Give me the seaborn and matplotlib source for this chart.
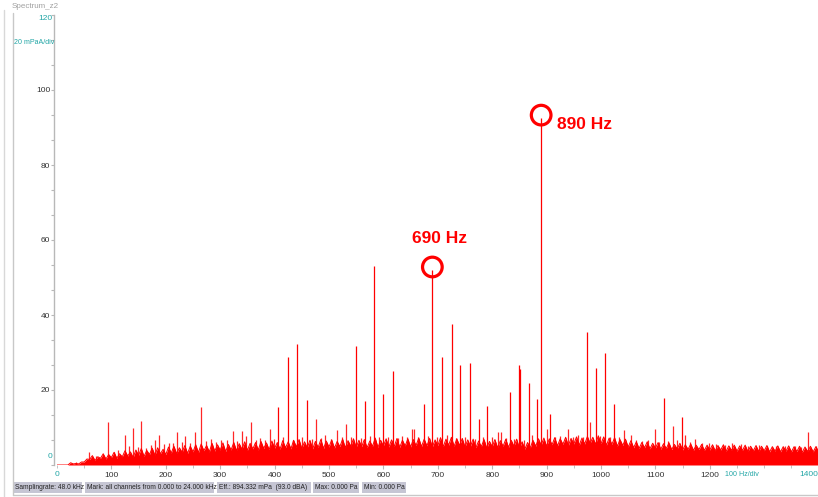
import matplotlib
matplotlib.use("Agg")
import matplotlib.pyplot as plt
from matplotlib import font_manager
from matplotlib.lines import Line2D
from matplotlib.patches import Rectangle
from matplotlib.ticker import MultipleLocator
import pandas as pd
import seaborn as sns

# ---- spectrum data (frequency in Hz, level in mPa(A)) ----
# noise floor: troughs on the 10 Hz grid, crests in between
floor_hz = list(range(0, 1410, 10))
floor_level = [
    0.0, 0.0, 0.0, 0.3, 0.3, 0.8, 1.5, 1.2, 1.8, 1.6,
    2.0, 1.8, 2.2, 2.4, 2.0, 2.6, 2.3, 2.8, 2.6, 3.0,
    2.8, 3.2, 3.0, 3.4, 3.1, 3.5, 3.3, 3.8, 3.5, 3.7,
    4.0, 3.6, 4.0, 3.8, 4.2, 3.9, 4.3, 4.0, 4.4, 4.1,
    4.5, 4.2, 4.6, 4.3, 4.8, 4.4, 4.6, 4.3, 4.7, 4.4,
    4.8, 4.5, 4.9, 4.6, 5.0, 4.7, 4.9, 4.6, 5.0, 4.7,
    5.1, 4.8, 5.0, 4.7, 5.1, 4.8, 5.2, 4.9, 5.1, 4.8,
    5.2, 4.9, 5.3, 5.0, 5.2, 4.8, 5.0, 4.6, 4.9, 4.5,
    4.9, 4.6, 5.0, 4.7, 5.0, 4.5, 4.2, 4.6, 5.0, 5.3,
    5.0, 5.4, 5.1, 5.5, 5.2, 5.6, 5.3, 5.6, 5.8, 5.5,
    5.7, 5.3, 5.5, 5.0, 5.2, 4.8, 4.6, 4.4, 4.6, 4.3,
    4.5, 4.2, 4.4, 4.1, 4.3, 4.0, 4.2, 3.9, 4.1, 3.9,
    4.0, 3.8, 4.0, 3.7, 3.9, 3.7, 3.9, 3.6, 3.8, 3.6,
    3.8, 3.5, 3.7, 3.5, 3.7, 3.5, 3.6, 3.4, 3.6, 3.5,
    3.6,
]
crest_hz = list(range(5, 1400, 10))
crest_level = [
    0.0, 0.0, 0.6, 0.4, 0.8,
    1.6, 2.5, 2.2, 3.0, 2.8, 3.4, 3.0, 3.8, 3.5, 4.0, 4.4, 3.9, 4.5, 4.6, 4.2,
    4.8, 5.0, 4.6, 5.2, 5.0, 5.4, 5.6, 5.2, 5.8, 5.4,
    5.9, 5.5, 6.0, 5.7, 6.2, 5.8, 6.0, 6.3, 5.9, 6.4,
    6.0, 6.5, 6.2, 6.6, 6.8, 6.2, 6.6, 6.3, 6.8, 6.4,
    6.7, 6.3, 6.9, 6.5, 7.0, 6.6, 6.8, 6.4, 7.2, 6.6,
    7.0, 6.7, 7.1, 6.6, 7.0, 6.8, 7.2, 6.9, 7.1, 6.7,
    7.3, 6.9, 7.4, 7.0, 7.1, 6.7, 6.9, 6.4, 6.8, 6.3,
    6.8, 6.5, 6.9, 6.6, 6.9, 6.2, 6.0, 6.6, 7.0, 7.2,
    7.0, 7.3, 7.0, 7.4, 7.1, 7.5, 7.2, 7.6, 7.4, 7.8,
    7.5, 7.2, 7.3, 6.8, 6.9, 6.5, 6.2, 6.0, 6.2, 5.8,
    6.0, 5.7, 5.9, 5.5, 5.8, 5.4, 5.6, 5.3, 5.5, 5.3,
    5.4, 5.2, 5.4, 5.1, 5.3, 5.1, 5.3, 5.0, 5.2, 5.0,
    5.2, 4.9, 5.1, 4.9, 5.1, 4.9, 5.0, 4.8, 5.0, 4.9,
]

# small peaks riding on the noise floor
ripple_hz = [
    35, 58, 72, 85, 93, 104, 112, 125, 133, 140, 148, 155, 163, 172, 180, 187,
    196, 205, 213, 221, 229, 236, 245, 254, 265, 274, 283, 292, 301, 312, 323,
    331, 340, 348, 357, 366, 374, 383, 391, 398, 416, 433, 450, 468, 476, 485,
    492, 503, 515, 523, 531, 540, 558, 575, 592, 608, 626, 634, 643, 652, 657,
    664, 682, 698, 716, 733, 750, 768, 784, 800, 810, 817, 825, 840, 858, 873,
    900, 915, 924, 939, 948, 958, 966, 979, 998, 1016, 1033, 1042, 1055, 1064,
    1075, 1087, 1099, 1106, 1124, 1133, 1140, 1155, 1163, 1172, 1185, 1198,
    1212, 1228, 1241, 1257, 1270, 1290, 1305, 1322, 1338, 1356, 1367, 1381, 1395,
]
ripple_level = [
    0.8, 3.6, 2.4, 2.8, 11.4, 3.4, 4.0, 8.1, 5.0, 10.0, 4.8, 11.7, 4.6, 5.4, 6.6, 8.1,
    5.6, 6.0, 5.8, 8.9, 6.2, 7.7, 6.0, 8.9, 15.6, 6.4, 7.0, 6.2, 6.8, 6.6, 9.2,
    6.4, 9.2, 7.7, 11.4, 6.6, 7.2, 6.8, 9.6, 7.0, 7.4, 6.8, 7.6, 7.0, 12.3, 7.2,
    8.0, 7.0, 9.3, 7.4, 11.0, 7.6, 7.2, 7.8, 7.4, 7.6, 7.2, 7.8, 7.4, 9.6, 9.6,
    7.6, 7.8, 7.4, 8.0, 7.2, 7.6, 7.0, 7.4, 7.6, 8.9, 8.8, 7.2, 7.0, 6.6, 8.0,
    9.6, 7.6, 7.8, 9.6, 7.4, 8.0, 7.6, 11.4, 7.8, 7.4, 7.6, 9.3, 8.0, 6.8,
    6.4, 6.6, 9.6, 6.2, 6.4, 10.3, 6.6, 8.0, 6.2, 7.0, 5.8, 6.0,
    5.6, 5.4, 5.8, 5.6, 5.2, 5.4, 5.0, 5.2, 5.0, 5.2, 4.9, 8.8, 5.0,
]

# tonal components
tone_hz = [
    407, 425, 441, 459, 550, 566, 583, 600, 617, 674, 690, 707, 726, 741,
    759, 776, 790, 832, 849, 851, 867, 883, 890, 907, 974, 991, 1008, 1024,
    1115, 1149,
]
tone_level = [
    15.5, 28.7, 32.4, 17.3, 31.8, 17.0, 53.0, 18.9, 25.2, 16.4, 52.0, 28.9,
    37.6, 26.7, 27.3, 12.3, 15.7, 19.5, 26.8, 25.5, 21.8, 17.6, 92.5, 13.5,
    35.4, 25.8, 29.8, 16.4, 17.8, 12.7,
]

# marked peaks
marker_hz = [690, 890]
marker_level = [52.0, 92.5]
marker_text = ["690 Hz", "890 Hz"]

x_ticks = [100, 200, 300, 400, 500, 600, 700, 800, 900, 1000, 1100, 1200]
y_ticks = [20, 40, 60, 80, 100]

status_fields = [
    "Samplingrate: 48.0 kHz",
    "Mark: all channels from 0.000 to 24.000 kHz",
    "Eff.: 894.332 mPa  (93.0 dBA)",
    "Max: 0.000 Pa",
    "Min: 0.000 Pa",
]

# ---- styling ----
sns.set_style("white")
plt.rcParams["font.family"] = ["Liberation Sans", "DejaVu Sans"]


def narrow_family():
    try:
        font_manager.findfont(font_manager.FontProperties(family="Liberation Sans Narrow"),
                              fallback_to_default=False)
        return ["Liberation Sans Narrow", "Liberation Sans"]
    except Exception:
        return ["Liberation Sans", "DejaVu Sans"]


SMALL = narrow_family()
SMALL_SIZE = 6.4 if SMALL[0].endswith("Narrow") else 5.4

RED = "#ff0000"
TEAL = "#22a6a6"
AXIS_GRAY = "#b8b8b8"
LABEL = "#333333"

W, H = 818, 497
fig = plt.figure(figsize=(W / 100, H / 100), dpi=100)
fig.patch.set_facecolor("white")


def fx(px):
    return px / W


def fy(py):
    return (H - py) / H


x0_px, x1_px = 57.0, 818.6
y0_px, y1_px = 465.0, 15.0
ax = fig.add_axes([fx(x0_px), fy(y0_px), (x1_px - x0_px) / W, (y0_px - y1_px) / H])
ax.set_facecolor("none")

# noise floor: merge troughs and crests into one jagged outline
floor_df = pd.DataFrame({"hz": floor_hz + crest_hz, "level": floor_level + crest_level})
floor_df = floor_df.sort_values("hz").reset_index(drop=True)
sns.lineplot(data=floor_df, x="hz", y="level", ax=ax, color=RED, lw=0.7,
             legend=False, sort=True)
ax.fill_between(floor_df["hz"], 0, floor_df["level"], color=RED, lw=0)

# small peaks and tonal lines
ax.vlines(ripple_hz, 0, ripple_level, color=RED, lw=0.9, alpha=0.85)
ax.vlines(tone_hz, 0, tone_level, color=RED, lw=0.9)

ax.set_xlim(0, 1400)
ax.set_ylim(0, 120)

# circled peaks with labels
ax.scatter(marker_hz, [v + 0.8 for v in marker_level], s=200, facecolors="none",
           edgecolors=RED, linewidths=2.3, zorder=5)
ax.text(marker_hz[0] + 14, marker_level[0] + 8.5, marker_text[0], color=RED,
        fontsize=12.5, fontweight="bold", ha="center", va="center")
ax.text(marker_hz[1] + 29, marker_level[1] - 1.6, marker_text[1], color=RED,
        fontsize=12.5, fontweight="bold", ha="left", va="center")

# axes look
for side in ["top", "right", "bottom"]:
    ax.spines[side].set_visible(False)
ax.spines["left"].set_color(AXIS_GRAY)
ax.spines["left"].set_linewidth(1.0)
ax.spines["left"].set_position(("outward", 2))

ax.set_xticks(x_ticks)
ax.set_xticklabels([str(t) for t in x_ticks], fontfamily=SMALL)
ax.xaxis.set_minor_locator(MultipleLocator(50))
ax.set_yticks(y_ticks)
ax.set_yticklabels([str(t) for t in y_ticks], fontfamily=SMALL)
ax.yaxis.set_minor_locator(MultipleLocator(20 / 3))
ax.tick_params(axis="y", which="major", direction="out", length=2.5, width=0.8,
               color=AXIS_GRAY, labelsize=SMALL_SIZE + 0.6, labelcolor=LABEL, pad=0.3,
               left=True)
ax.tick_params(axis="y", which="minor", direction="out", length=2, width=0.8,
               color=AXIS_GRAY, left=True)
ax.tick_params(axis="x", which="major", direction="out", length=3, width=0.8,
               color=AXIS_GRAY, labelsize=SMALL_SIZE + 0.6, labelcolor=LABEL, pad=1.8,
               bottom=True)
ax.tick_params(axis="x", which="minor", direction="out", length=2, width=0.6,
               color=AXIS_GRAY, bottom=True)
ax.set_xlabel("")
ax.set_ylabel("")

# teal scale annotations
teal_kw = dict(color=TEAL, fontsize=SMALL_SIZE + 0.6, fontfamily=SMALL)
unit_kw = dict(color=TEAL, fontsize=SMALL_SIZE - 0.3, fontfamily=SMALL)
fig.text(fx(52), fy(457), "0", ha="right", va="center", **teal_kw)
fig.text(fx(52.5), fy(19), "120", ha="right", va="center", **teal_kw)
fig.text(fx(54), fy(43), "20 mPaA/div", ha="right", va="center", **unit_kw)
fig.text(fx(57.3), fy(475), "0", ha="center", va="center", **teal_kw)
fig.text(fx(742), fy(475), "100 Hz/div", ha="center", va="center", **unit_kw)
fig.text(fx(818), fy(475), "1400", ha="right", va="center", **teal_kw)

# window title and frame
fig.text(fx(12), fy(6), "Spectrum_z2", color="#a0a0a0", fontsize=SMALL_SIZE + 0.4,
         fontfamily=SMALL, ha="left", va="center")
fig.add_artist(Line2D([fx(12.5), fx(12.5)], [fy(13), fy(495)], color="#c8c8c8", lw=1.0))
fig.add_artist(Line2D([fx(4), fx(4)], [fy(10), fy(497)], color="#d8d8d8", lw=1.0))
fig.add_artist(Line2D([fx(12.5), 1.0], [fy(494.5), fy(494.5)], color="#c8c8c8", lw=1.0))

# status bar
box_px = [(13, 82), (85, 214), (217, 311), (313, 359), (362, 406)]
for (bx0, bx1), label in zip(box_px, status_fields):
    fig.add_artist(Rectangle((fx(bx0), fy(493)), (bx1 - bx0) / W, 11 / H,
                             facecolor="#c6c6d4", edgecolor="none"))
    fig.text(fx(bx0 + 2), fy(487.5), label, color="#222222", fontsize=SMALL_SIZE - 0.6,
             fontfamily=SMALL, ha="left", va="center")

fig.savefig("out.png", dpi=100)
